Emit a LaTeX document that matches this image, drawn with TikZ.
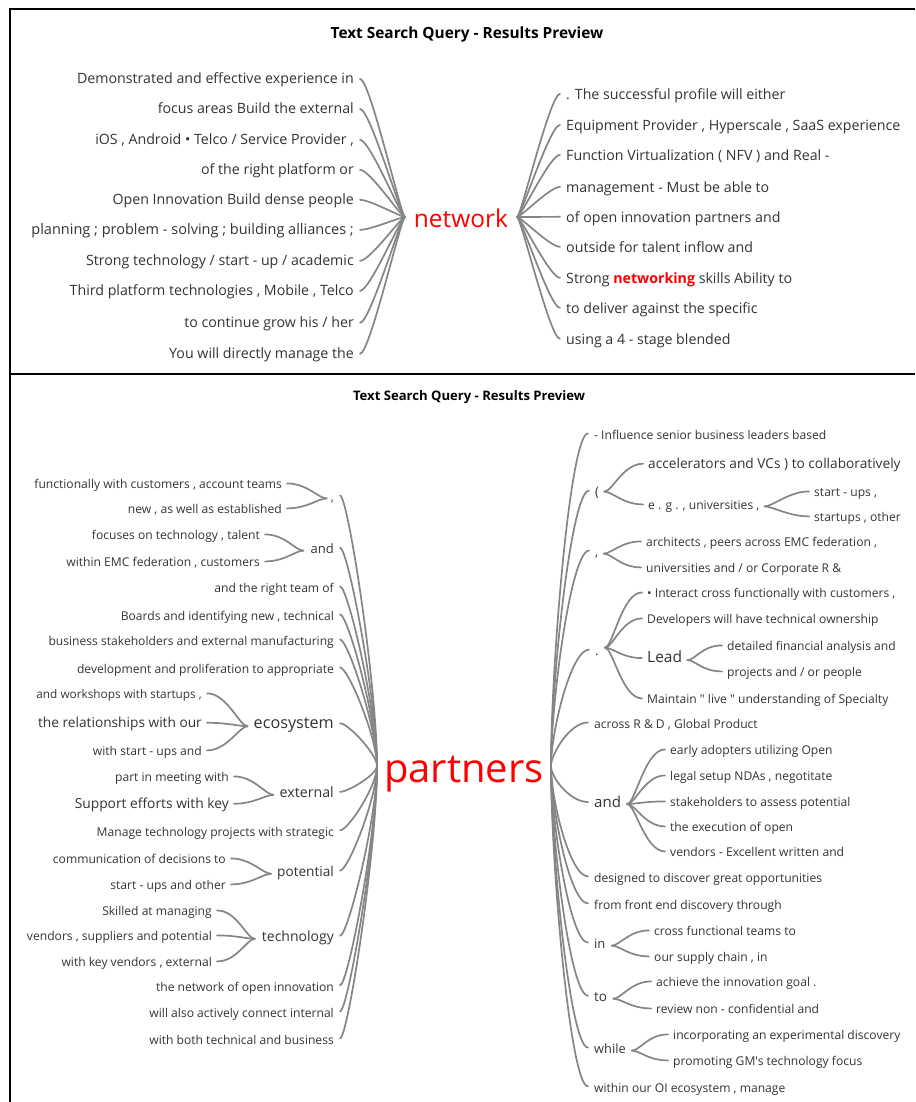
\documentclass[tikz,border=0pt]{standalone}
\usepackage{fontspec}
\setmainfont{Open Sans}[Ligatures=TeXOff]
\usetikzlibrary{calc}
\definecolor{txt}{HTML}{333333}
\definecolor{ln}{HTML}{858585}
\definecolor{hot}{HTML}{FF0000}
% connectors
\newcommand\TLc[2]{\draw[conn] ([xshift=6pt,yshift=2pt]#1.mid east) .. controls +(10,0) and +(-4,0) .. (#2);}
\newcommand\TRc[2]{\draw[conn] (#1) .. controls +(4,0) and +(-10,0) .. ([xshift=-6pt,yshift=3pt]#2.mid west);}
\newcommand\BLc[2]{\draw[conn] ([xshift=6pt,yshift=3pt]#1.mid east) .. controls +(8,0) and ($(#2)!0.3!(#2|-#1.mid east)$) .. (#2);}
\newcommand\BRc[2]{\draw[conn] (#1) .. controls ($(#1)!0.3!(#1|-#2.mid west)$) and +(-18,0) .. ([xshift=-6pt,yshift=3pt]#2.mid west);}
\newcommand\LCc[2]{\draw[conn] ([xshift=5pt,yshift=2pt]#1.mid east) .. controls +(20,0) and +(-8,0) .. (#2);}
\newcommand\RCc[2]{\draw[conn] (#1) .. controls +(8,0) and +(-20,0) .. ([xshift=-5pt,yshift=2pt]#2.mid west);}
\begin{document}
\begin{tikzpicture}[x=1pt,y=-1pt,
  tx/.style={inner sep=0pt, text=txt, font=\fontsize{#1}{#1}\selectfont, yshift=-0.2*#1pt},
  tx/.default=12.1,
  ltx/.style={tx=#1, anchor=mid east},
  ltx/.default=12.1,
  rtx/.style={tx=#1, anchor=mid west},
  rtx/.default=12.1,
  ttl/.style={inner sep=0pt, text=black, font=\fontsize{#1}{#1}\selectfont\bfseries, yshift=-2pt},
  conn/.style={draw=ln, line width=1.7pt, line cap=round},
  frame/.style={draw=black, line width=1.2pt}]
\useasboundingbox (0,0) rectangle (915,1102);
% frames
\draw[frame] (915,9) -- (10,9) -- (10,1102);
\draw[frame] (10,374) -- (915,374);

% ================= top panel =================
\node[ttl=15.4] (title1) at (467,33) {Text Search Query - Results Preview};
\node[tx=24.5, text=hot, anchor=mid] (nw) at (461,220) {network};
\coordinate (nl) at (405,217);
\coordinate (nr) at (517,217);

\def\TL{14.2}
\node[ltx=\TL] (tl1) at (354,78) {Demonstrated and effective experience in};
\node[ltx=\TL] (tl2) at (354,108) {focus areas Build the external};
\node[ltx=\TL] (tl3) at (354,139) {iOS , Android • Telco / Service Provider ,};
\node[ltx=\TL] (tl4) at (354,169) {of the right platform or};
\node[ltx=\TL] (tl5) at (354,199) {Open Innovation Build dense people};
\node[ltx=14.5] (tl6) at (354,229) {planning ; problem - solving ; building alliances ;};
\node[ltx=\TL] (tl7) at (354,260) {Strong technology / start - up / academic};
\node[ltx=\TL] (tl8) at (354,290) {Third platform technologies , Mobile , Telco};
\node[ltx=\TL] (tl9) at (354,322) {to continue grow his / her};
\node[ltx=\TL] (tl10) at (354,353) {You will directly manage the};
\foreach \i in {1,...,10} {\TLc{tl\i}{nl}}

\node[rtx=\TL] (tr1) at (566,94) {. The successful profile will either};
\node[rtx=\TL] (tr2) at (566,125) {Equipment Provider , Hyperscale , SaaS experience};
\node[rtx=\TL] (tr3) at (566,155) {Function Virtualization ( NFV ) and Real -};
\node[rtx=\TL] (tr4) at (566,187) {management - Must be able to};
\node[rtx=\TL] (tr5) at (566,217) {of open innovation partners and};
\node[rtx=\TL] (tr6) at (566,247) {outside for talent inflow and};
\node[rtx=\TL] (tr7) at (566,278) {Strong {\bfseries\color{hot}networking} skills Ability to};
\node[rtx=\TL] (tr8) at (566,308) {to deliver against the specific};
\node[rtx=\TL] (tr9) at (566,339) {using a 4 - stage blended};
\foreach \i in {1,...,9} {\TRc{nr}{tr\i}}

% ================= bottom panel =================
\node[ttl=13.1] (title2) at (469,395) {Text Search Query - Results Preview};
\node[tx=40, text=hot, anchor=mid] (pa) at (464,772) {partners};
\coordinate (pl) at (377,766);
\coordinate (pr) at (551,766);

% ---- left level 1
\node[ltx] (bl1) at (334,496) {,};
\node[ltx=13] (bl2) at (334,548) {and};
\node[ltx] (bl3) at (334,587) {and the right team of};
\node[ltx] (bl4) at (334,615) {Boards and identifying new , technical};
\node[ltx] (bl5) at (334,640) {business stakeholders and external manufacturing};
\node[ltx] (bl6) at (334,668) {development and proliferation to appropriate};
\node[ltx=16.2] (bl7) at (334,723) {ecosystem};
\node[ltx=14.2] (bl8) at (334,792) {external};
\node[ltx] (bl9) at (334,831) {Manage technology projects with strategic};
\node[ltx=13.6] (bl10) at (334,871) {potential};
\node[ltx=14] (bl11) at (334,936) {technology};
\node[ltx] (bl12) at (334,986) {the network of open innovation};
\node[ltx] (bl13) at (334,1012) {will also actively connect internal};
\node[ltx] (bl14) at (334,1039) {with both technical and business};
\foreach \i in {1,...,14} {\BLc{bl\i}{pl}}

% ---- left level 2
\coordinate (h1) at ([xshift=-4pt]bl1.mid west);
\node[ltx] (c1a) at (282,483) {functionally with customers , account teams};
\node[ltx] (c1b) at (282,508) {new , as well as established};
\LCc{c1a}{h1} \LCc{c1b}{h1}

\coordinate (h2) at ([xshift=-7pt]bl2.mid west);
\node[ltx] (c2a) at (260,534) {focuses on technology , talent};
\node[ltx] (c2b) at (260,561) {within EMC federation , customers};
\LCc{c2a}{h2} \LCc{c2b}{h2}

\coordinate (h7) at ([xshift=-6pt]bl7.mid west);
\node[ltx=11.8] (c7a) at (202,693) {and workshops with startups ,};
\node[ltx=13.7] (c7b) at (202,722) {the relationships with our};
\node[ltx] (c7c) at (202,750) {with start - ups and};
\LCc{c7a}{h7} \LCc{c7b}{h7} \LCc{c7c}{h7}

\coordinate (h8) at ([xshift=-6pt]bl8.mid west);
\node[ltx] (c8a) at (229,776) {part in meeting with};
\node[ltx=13.8] (c8b) at (229,803) {Support efforts with key};
\LCc{c8a}{h8} \LCc{c8b}{h8}

\coordinate (h10) at ([xshift=-6pt]bl10.mid west);
\node[ltx] (c10a) at (226,858) {communication of decisions to};
\node[ltx] (c10b) at (226,884) {start - ups and other};
\LCc{c10a}{h10} \LCc{c10b}{h10}

\coordinate (h11) at ([xshift=-7pt]bl11.mid west);
\node[ltx] (c11a) at (212,910) {Skilled at managing};
\node[ltx] (c11b) at (212,935) {vendors , suppliers and potential};
\node[ltx] (c11c) at (212,961) {with key vendors , external};
\LCc{c11a}{h11} \LCc{c11b}{h11} \LCc{c11c}{h11}

% ---- right level 1
\node[rtx] (br1) at (594,434) {- Influence senior business leaders based};
\node[rtx=13] (br2) at (595,491) {(};
\node[rtx=13] (br3) at (595,551) {,};
\node[rtx=13] (br4) at (595,650) {.};
\node[rtx] (br5) at (594,723) {across R \& D , Global Product};
\node[rtx=15] (br6) at (594,802) {and};
\node[rtx] (br7) at (594,877) {designed to discover great opportunities};
\node[rtx] (br8) at (594,904) {from front end discovery through};
\node[rtx=13] (br9) at (594,943) {in};
\node[rtx=13.5] (br10) at (594,996) {to};
\node[rtx=12.8] (br11) at (594,1048) {while};
\node[rtx] (br12) at (594,1087) {within our OI ecosystem , manage};
\foreach \i in {1,...,12} {\BRc{pr}{br\i}}

% ---- right level 2
\coordinate (g2) at ([xshift=5pt,yshift=2pt]br2.mid east);
\node[rtx=13.7] (d2a) at (648,463) {accelerators and VCs ) to collaboratively};
\node[rtx] (d2b) at (648,504) {e . g . , universities ,};
\RCc{g2}{d2a} \RCc{g2}{d2b}
\coordinate (g2b) at ([xshift=5pt]d2b.mid east);
\node[rtx] (d2b1) at (814,491) {start - ups ,};
\node[rtx] (d2b2) at (814,516) {startups , other};
\RCc{g2b}{d2b1} \RCc{g2b}{d2b2}

\coordinate (g3) at ([xshift=5pt]br3.mid east);
\node[rtx] (d3a) at (646,541) {architects , peers across EMC federation ,};
\node[rtx] (d3b) at (646,567) {universities and / or Corporate R \&};
\RCc{g3}{d3a} \RCc{g3}{d3b}

\coordinate (g4) at ([xshift=6pt,yshift=5pt]br4.mid east);
\node[rtx] (d4a) at (647,592) {• Interact cross functionally with customers ,};
\node[rtx] (d4b) at (647,618) {Developers will have technical ownership};
\node[rtx=15.5] (d4c) at (647,657) {Lead};
\node[rtx] (d4d) at (647,698) {Maintain " live " understanding of Specialty};
\RCc{g4}{d4a} \RCc{g4}{d4b} \RCc{g4}{d4c} \RCc{g4}{d4d}
\coordinate (g4c) at ([xshift=5pt]d4c.mid east);
\node[rtx] (d4c1) at (727,645) {detailed financial analysis and};
\node[rtx] (d4c2) at (727,671) {projects and / or people};
\RCc{g4c}{d4c1} \RCc{g4c}{d4c2}

\coordinate (g6) at ([xshift=6pt,yshift=1pt]br6.mid east);
\node[rtx] (d6a) at (670,749) {early adopters utilizing Open};
\node[rtx] (d6b) at (670,775) {legal setup NDAs , negotitate};
\node[rtx] (d6c) at (670,801) {stakeholders to assess potential};
\node[rtx] (d6d) at (670,826) {the execution of open};
\node[rtx] (d6e) at (670,851) {vendors - Excellent written and};
\foreach \k in {a,b,c,d,e} {\RCc{g6}{d6\k}}

\coordinate (g9) at ([xshift=6pt]br9.mid east);
\node[rtx] (d9a) at (654,930) {cross functional teams to};
\node[rtx] (d9b) at (654,956) {our supply chain , in};
\RCc{g9}{d9a} \RCc{g9}{d9b}

\coordinate (g10) at ([xshift=6pt]br10.mid east);
\node[rtx] (d10a) at (656,981) {achieve the innovation goal .};
\node[rtx] (d10b) at (656,1008) {review non - confidential and};
\RCc{g10}{d10a} \RCc{g10}{d10b}

\coordinate (g11) at ([xshift=6pt]br11.mid east);
\node[rtx] (d11a) at (673,1034) {incorporating an experimental discovery};
\node[rtx] (d11b) at (673,1060) {promoting GM's technology focus};
\RCc{g11}{d11a} \RCc{g11}{d11b}
\end{tikzpicture}
\end{document}
